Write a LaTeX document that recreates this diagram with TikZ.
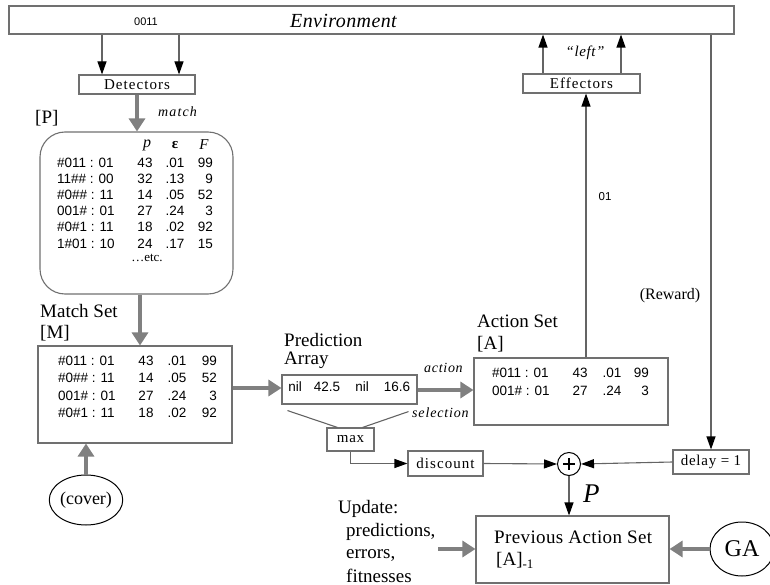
\documentclass[tikz,border=0pt]{standalone}
\usepackage{fontspec}
\setmainfont{Liberation Serif}
\newfontfamily\sfn{Liberation Sans}
\usetikzlibrary{arrows.meta,shapes.geometric,calc}
\definecolor{boxgray}{RGB}{112,112,112}
\definecolor{linegray}{RGB}{100,100,100}
\definecolor{thickgray}{RGB}{128,128,128}
\newcommand\lsp[2]{{\addfontfeature{LetterSpace=#1}#2}}
\newcommand\fsz[1]{\fontsize{#1}{#1}\selectfont}
\begin{document}
\begin{tikzpicture}[x=1pt,y=-1pt,
  box/.style 2 args={draw=boxgray,line width=1.1pt,inner sep=0pt,minimum width=#1,minimum height=#2},
  tarrow/.style={draw=linegray,line width=1.1pt,-{Triangle[length=13pt,width=9pt,color=black]}},
  tline/.style={draw=linegray,line width=1.1pt},
  karrow/.style={draw=thickgray,line width=4pt,-{Triangle[length=13pt,width=16pt,color=thickgray]}},
  tab/.style={font=\sfn\fsz{13.5},inner sep=0pt},
  big/.style={font=\fsz{19},inner sep=0pt,anchor=base west},
  lab/.style={font=\itshape\fsz{14},inner sep=0pt,anchor=base west}]
\useasboundingbox (0,0) rectangle (770,585);

% ---------- boxes ----------
\node[box={725}{28}] (env) at (371.5,20) {};
\node[font=\sfn\fsz{11},inner sep=0pt] (t0011) at (146,22) {0011};
\node[font=\itshape\fsz{20},inner sep=0pt,anchor=base west] (envt) at (290,28) {\lsp{2}{Environment}};

\node[box={116}{19},font=\fsz{15}] (det) at (137,84.5) {\lsp{7}{Detectors}};
\node[box={117}{19},font=\fsz{15}] (eff) at (581.5,83.5) {\lsp{7}{Effectors}};

\node[box={193}{162},rounded corners=25pt] (pop) at (136.5,213) {};
\node[box={194}{97}] (match) at (135,394.5) {};
\node[box={135}{29}] (pa) at (349.5,389.5) {};
\node[box={194}{67}] (as) at (571,391.5) {};
\node[box={47}{23},font=\fsz{15}] (max) at (350.5,439.5) {\lsp{5}{max}};
\node[box={75}{25},font=\fsz{15}] (disc) at (445.5,463.5) {\lsp{7}{discount}};
\node[circle,draw=black,line width=1pt,minimum size=23pt,inner sep=0pt] (plus) at (569,464) {};
\draw[line width=1.6pt] ($(plus.center)+(-6,0)$) -- ($(plus.center)+(6,0)$)
      ($(plus.center)+(0,-6)$) -- ($(plus.center)+(0,6)$);
\node[box={76}{24},font=\fsz{15}] (delay) at (711,462) {\lsp{5}{delay = 1}};
\node[box={193}{67}] (prev) at (572.5,549.5) {};
\node[ellipse,draw=black,line width=1pt,minimum width=72pt,minimum height=50pt,inner sep=0pt,font=\fsz{18}] (cover) at (86,500) {(cover)};
\node[ellipse,draw=black,line width=1pt,minimum width=64pt,minimum height=54pt,inner sep=0pt,font=\fsz{24}] (ga) at (742,549) {GA};

% ---------- labels ----------
\node[big] (lP) at (35,124) {[P]};
\node[big] (lM1) at (40,317) {Match Set};
\node[big] (lM2) at (40,338) {[M]};
\node[big] (lPA1) at (284,346) {Prediction};
\node[big] (lPA2) at (284,364) {Array};
\node[big] (lA1) at (477,327) {Action Set};
\node[big] (lA2) at (477,349) {[A]};
\node[big] (lU1) at (338,513) {Update:};
\node[big] (lU2) at (346,536) {predictions,};
\node[big] (lU3) at (346,558) {errors,};
\node[big] (lU4) at (346,582) {fitnesses};
\node[big] (lPr1) at (494,543) {\lsp{2}{Previous Action Set}};
\node[big] (lPr2) at (496,565) {[A]\raisebox{-0.35ex}{\fsz{13}-1}};
\node[font=\itshape\fsz{27},inner sep=0pt,anchor=base west] (lPP) at (583,502) {P};

\node[lab] (lmatch) at (158,117) {\lsp{8}{match}};
\node[lab] (laction) at (424,372) {\lsp{5}{action}};
\node[lab] (lsel) at (412,417) {\lsp{6}{selection}};
\node[font=\itshape\fsz{15},inner sep=0pt] (lleft) at (585,53) {\lsp{4}{“left”}};
\node[font=\sfn\fsz{11.5},inner sep=0pt] (l01) at (605,197) {01};
\node[font=\fsz{16},inner sep=0pt] (lrew) at (670,296) {(Reward)};

% ---------- population table ----------
\node[font=\itshape\fsz{16},inner sep=0pt] (hp) at (147,145) {p};
\node[font=\bfseries\fsz{15},inner sep=0pt] (he) at (175,145) {ε};
\node[font=\itshape\fsz{15},inner sep=0pt] (hf) at (204,145) {F};
\foreach \c/\p/\e/\f [count=\i] in {\#011 : 01/43/.01/99, 11\#\# : 00/32/.13/9, \#0\#\# : 11/14/.05/52, 001\# : 01/27/.24/3, \#0\#1 : 11/18/.02/92, 1\#01 : 10/24/.17/15}{
  \node[tab,anchor=base west] (pc\i) at (57,152+16*\i) {\c};
  \node[tab,anchor=base] (pp\i) at (145,152+16*\i) {\p};
  \node[tab,anchor=base] (pe\i) at (175,152+16*\i) {\e};
  \node[tab,anchor=base east] (pf\i) at (213,152+16*\i) {\f};
}
\node[font=\fsz{13},inner sep=0pt] (etc) at (147,258) {…etc.};

% ---------- match set table ----------
\foreach \c/\p/\e/\f [count=\i] in {\#011 : 01/43/.01/99, \#0\#\# : 11/14/.05/52, 001\# : 01/27/.24/3, \#0\#1 : 11/18/.02/92}{
  \node[tab,anchor=base west] (mc\i) at (58,347.5+17.5*\i) {\c};
  \node[tab,anchor=base] (mp\i) at (146,347.5+17.5*\i) {\p};
  \node[tab,anchor=base] (me\i) at (177,347.5+17.5*\i) {\e};
  \node[tab,anchor=base east] (mf\i) at (217,347.5+17.5*\i) {\f};
}

% ---------- action set table ----------
\foreach \c/\p/\e/\f [count=\i] in {\#011 : 01/43/.01/99, 001\# : 01/27/.24/3}{
  \node[tab,anchor=base west] (ac\i) at (492,359+18*\i) {\c};
  \node[tab,anchor=base] (ap\i) at (580,359+18*\i) {\p};
  \node[tab,anchor=base] (ae\i) at (612,359+18*\i) {\e};
  \node[tab,anchor=base east] (af\i) at (649,359+18*\i) {\f};
}

% ---------- prediction array ----------
\node[tab,anchor=base] (pa1) at (295,391) {nil};
\node[tab,anchor=base] (pa2) at (327,391) {42.5};
\node[tab,anchor=base] (pa3) at (362,391) {nil};
\node[tab,anchor=base] (pa4) at (397,391) {16.6};

% ---------- connectors ----------
\draw[tarrow] (env.south -| 102,0) -- (det.north -| 102,0);
\draw[tarrow] (env.south -| 179,0) -- (det.north -| 179,0);
\draw[karrow] (det.south) -- (pop.north -| det.south);
\draw[karrow] (pop.south -| 140,0) -- (match.north -| 140,0);
\draw[karrow] (cover.north) -- (match.south -| cover.north);
\draw[karrow] (match.east |- 0,388) -- (pa.west |- 0,388);
\draw[karrow] (pa.east |- 0,390) -- (as.west |- 0,390);
\draw[tline] ($(pa.south west)+(6,6)$) -- ($(max.north west)+(11,0)$);
\draw[tline] ($(pa.south east)+(-9,7)$) -- ($(max.north east)+(-12,0)$);
\draw[tarrow] (max.south) |- (disc.west);
\draw[tarrow] (disc.east) -- (plus.west);
\draw[tarrow] (delay.west) -- (plus.east);
\draw[tarrow] (env.south -| delay.north) -- (delay.north);
\draw[tarrow] (as.north -| 586,0) -- (eff.south -| 586,0);
\draw[tarrow] (eff.north -| 543,0) -- (env.south -| 543,0);
\draw[tarrow] (eff.north -| 621,0) -- (env.south -| 621,0);
\draw[tarrow] (plus.south) -- (prev.north -| plus.south);
\draw[karrow] (ga.west) -- (prev.east |- ga.west);
\coordinate (updstart) at (438,549);
\draw[karrow] (updstart) -- (prev.west |- updstart);
\end{tikzpicture}
\end{document}
